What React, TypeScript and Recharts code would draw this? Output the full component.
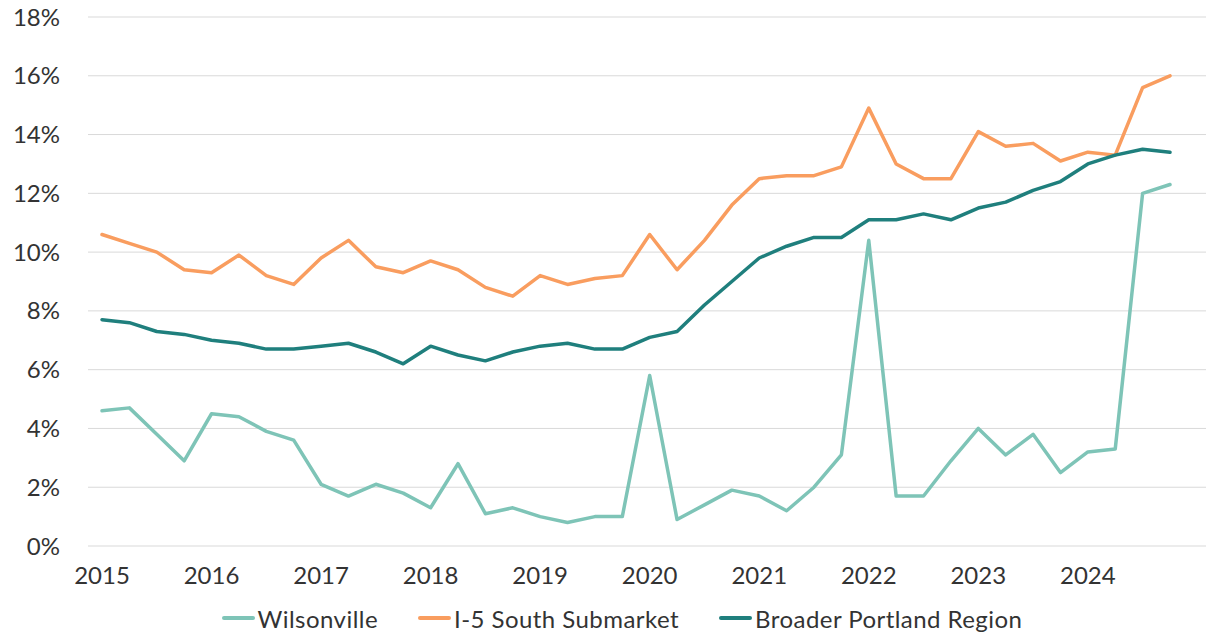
import { LineChart, Line, XAxis, YAxis, CartesianGrid, Legend } from 'recharts';

const years = ['2015', '2016', '2017', '2018', '2019', '2020', '2021', '2022', '2023', '2024'];
const quarters = years.flatMap((y) => [`${y} Q1`, `${y} Q2`, `${y} Q3`, `${y} Q4`]);

const wilsonville = [
  4.6, 4.7, 3.8, 2.9, 4.5, 4.4, 3.9, 3.6, 2.1, 1.7, 2.1, 1.8, 1.3, 2.8, 1.1, 1.3, 1.0, 0.8, 1.0, 1.0,
  5.8, 0.9, 1.4, 1.9, 1.7, 1.2, 2.0, 3.1, 10.4, 1.7, 1.7, 2.9, 4.0, 3.1, 3.8, 2.5, 3.2, 3.3, 12.0, 12.3,
];
const i5South = [
  10.6, 10.3, 10.0, 9.4, 9.3, 9.9, 9.2, 8.9, 9.8, 10.4, 9.5, 9.3, 9.7, 9.4, 8.8, 8.5, 9.2, 8.9, 9.1, 9.2,
  10.6, 9.4, 10.4, 11.6, 12.5, 12.6, 12.6, 12.9, 14.9, 13.0, 12.5, 12.5, 14.1, 13.6, 13.7, 13.1, 13.4, 13.3, 15.6, 16.0,
];
const portland = [
  7.7, 7.6, 7.3, 7.2, 7.0, 6.9, 6.7, 6.7, 6.8, 6.9, 6.6, 6.2, 6.8, 6.5, 6.3, 6.6, 6.8, 6.9, 6.7, 6.7,
  7.1, 7.3, 8.2, 9.0, 9.8, 10.2, 10.5, 10.5, 11.1, 11.1, 11.3, 11.1, 11.5, 11.7, 12.1, 12.4, 13.0, 13.3, 13.5, 13.4,
];
const yTicks = [0, 2, 4, 6, 8, 10, 12, 14, 16, 18];

const series = [
  { key: 'wilsonville', name: 'Wilsonville', color: '#7EC4B7' },
  { key: 'i5South', name: 'I-5 South Submarket', color: '#F99D5F' },
  { key: 'portland', name: 'Broader Portland Region', color: '#1F7F7D' },
];

const data = quarters.map((q, i) => ({
  period: q,
  wilsonville: wilsonville[i],
  i5South: i5South[i],
  portland: portland[i],
}));

const font = 'Lato, "Open Sans", sans-serif';
const textColor = '#333333';

function ChartLegend() {
  return (
    <div
      style={{
        height: 34,
        display: 'flex',
        alignItems: 'center',
        justifyContent: 'center',
        paddingLeft: 38,
        fontFamily: font,
        fontSize: 24,
        letterSpacing: 0.45,
        color: textColor,
      }}
    >
      {series.map((s) => (
        <div key={s.key} style={{ display: 'flex', alignItems: 'center', margin: '0 20px' }}>
          <div style={{ width: 33, height: 4, background: s.color, borderRadius: 2, marginRight: 3 }} />
          <span>{s.name}</span>
        </div>
      ))}
    </div>
  );
}

export default function App() {
  return (
    <div style={{ position: 'absolute', left: 0, top: 0, background: '#fff' }}>
      <LineChart width={1206} height={635} data={data} margin={{ top: 17, right: 0, bottom: 0, left: 0 }}>
        <CartesianGrid vertical={false} stroke='#D9D9D9' strokeWidth={1} />
        <XAxis
          dataKey='period'
          interval={3}
          tickFormatter={(v: string) => v.slice(0, 4)}
          axisLine={false}
          tickLine={false}
          tickSize={0}
          tickMargin={21}
          height={55}
          padding={{ left: 14, right: 36 }}
          tick={{ fontSize: 24, fill: textColor, fontFamily: font }}
        />
        <YAxis
          domain={[0, 18]}
          ticks={yTicks}
          tickFormatter={(v: number) => `${v}%`}
          axisLine={false}
          tickLine={false}
          tickSize={0}
          tickMargin={28}
          width={88}
          tick={{ fontSize: 24, fill: textColor, fontFamily: font }}
        />
        <Legend verticalAlign='bottom' content={() => <ChartLegend />} />
        {series.map((s) => (
          <Line
            key={s.key}
            type='linear'
            dataKey={s.key}
            name={s.name}
            stroke={s.color}
            strokeWidth={3.5}
            strokeLinejoin='round'
            strokeLinecap='round'
            dot={false}
            activeDot={false}
            isAnimationActive={false}
          />
        ))}
      </LineChart>
    </div>
  );
}
